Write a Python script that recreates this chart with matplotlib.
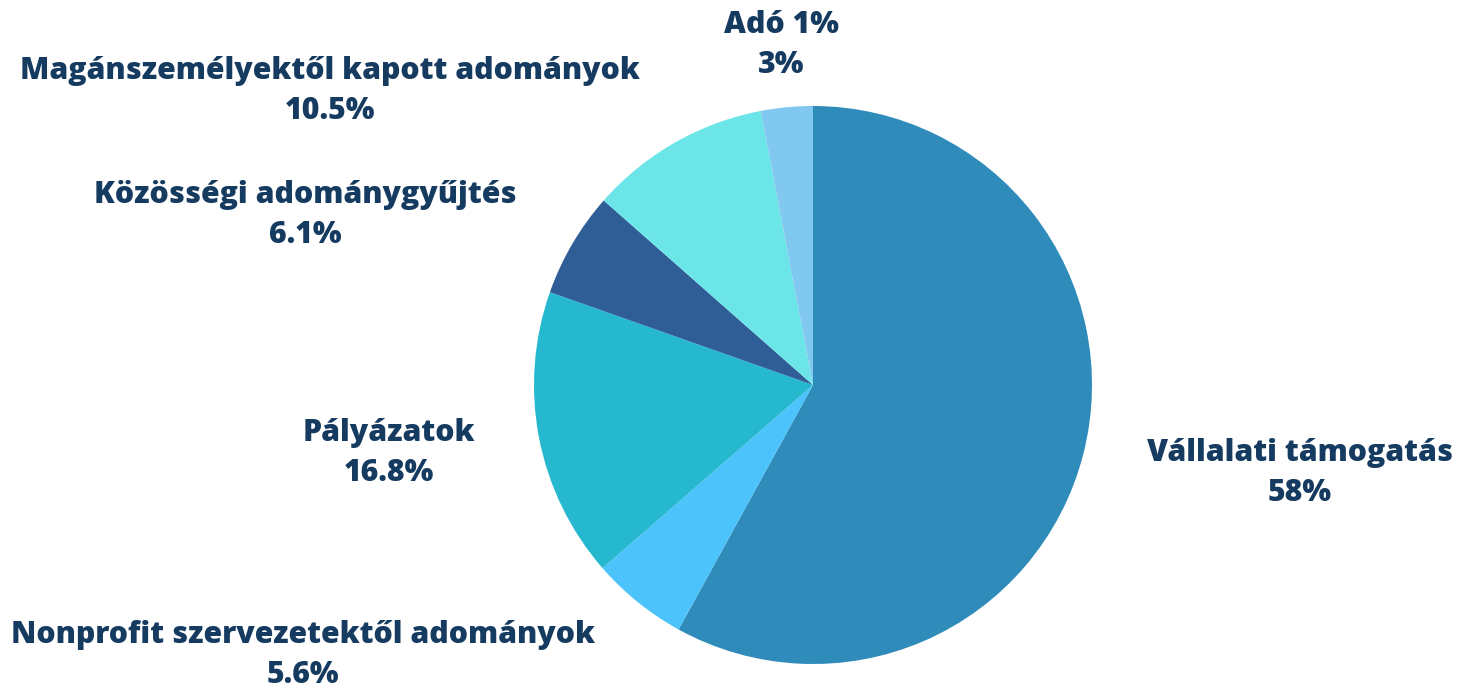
import matplotlib
matplotlib.use("Agg")
import matplotlib.pyplot as plt

categories = ["Vállalati támogatás", "Nonprofit szervezetektől adományok", "Pályázatok",
              "Közösségi adománygyűjtés", "Magánszemélyektől kapott adományok", "Adó 1%"]
values = [58, 5.6, 16.8, 6.1, 10.5, 3]
value_labels = ["58%", "5.6%", "16.8%", "6.1%", "10.5%", "3%"]
colors = ["#2E8BBA", "#4CC3FB", "#25B8CF", "#2F5E96", "#6BE5E8", "#80C8EF"]

W, H = 1462, 688
fig = plt.figure(figsize=(W / 100, H / 100), dpi=100)
ax = fig.add_axes([0, 0, 1, 1])

cx, cy, r = 813, H - 385, 279
ax.pie(values, colors=colors, startangle=90, counterclock=False,
       center=(cx, cy), radius=r, frame=True,
       wedgeprops=dict(linewidth=0))
ax.set_xlim(0, W)
ax.set_ylim(0, H)
ax.set_aspect("equal")
ax.axis("off")

# label anchor positions (pixel coordinates, center of two-line block)
label_pos = [(1300, 473), (303, 655), (389, 453), (305, 215), (330, 91), (781, 45)]
txt_color = "#163B61"
for name, vl, (px, py) in zip(categories, value_labels, label_pos):
    ax.text(px, H - py, f"{name}\n{vl}", ha="center", va="center",
            fontsize=21.8, fontweight=800, family="Open Sans",
            color=txt_color, linespacing=1.4)

fig.savefig("out.png", dpi=100)
